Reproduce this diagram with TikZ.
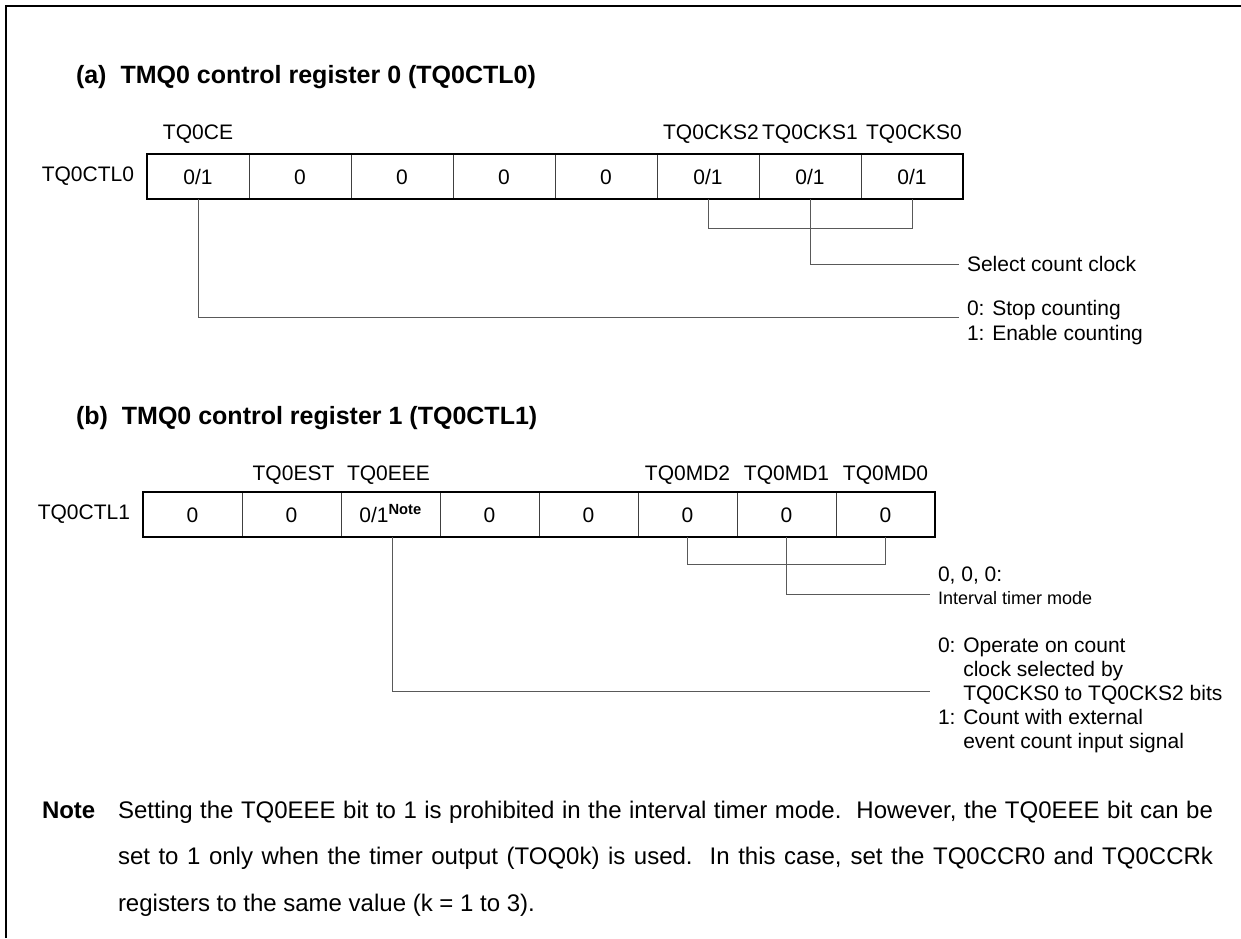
\documentclass[tikz,border=0pt]{standalone}
\usepackage{fontspec}
\setmainfont{Liberation Sans}
\begin{document}
\begin{tikzpicture}[x=1pt,y=-1pt,
  every node/.style={inner sep=0pt, outer sep=0pt},
  lbl/.style={font=\fontsize{21}{25}\selectfont},
  ttl/.style={font=\fontsize{25}{30}\selectfont\bfseries, anchor=west},
  cellA/.style={draw=black!75, line width=0.8pt, minimum width=102pt, minimum height=45pt, text height=15pt, text depth=0pt, anchor=north west, font=\fontsize{21}{25}\selectfont},
  cellB/.style={cellA, minimum width=99pt},
  regframe/.style={line width=2pt},
  conn/.style={draw=black!65, line width=1pt},
  border/.style={line width=2.5pt, line join=miter},
  desc/.style={font=\fontsize{21}{25}\selectfont, align=left, anchor=north west, inner xsep=8pt, inner ysep=0pt}
]
\useasboundingbox (0,0) rectangle (1241,938);
\draw[border] (6,938) -- (6,6) -- (1241,6);

% ---------- (a) ----------
\node[ttl] (ta) at (76,77) {(a)\hspace{14pt}TMQ0 control register 0 (TQ0CTL0)};

\node[cellA] (a1) at (147,154) {0/1};
\node[cellA] (a2) at (249,154) {0};
\node[cellA] (a3) at (351,154) {0};
\node[cellA] (a4) at (453,154) {0};
\node[cellA] (a5) at (555,154) {0};
\node[cellA] (a6) at (657,154) {0/1};
\node[cellA] (a7) at (759,154) {0/1};
\node[cellA] (a8) at (861,154) {0/1};
\draw[regframe] (a1.north west) rectangle (a8.south east);

\node[lbl, anchor=east] (na) at ([xshift=-13pt]a1.west) {TQ0CTL0};
\node[lbl] (la1) at ([yshift=20pt]a1.north) {TQ0CE};
\node[lbl] (la6) at ([yshift=20pt,xshift=3pt]a6.north) {TQ0CKS2};
\node[lbl] (la7) at ([yshift=20pt]a7.north) {TQ0CKS1};
\node[lbl] (la8) at ([yshift=20pt,xshift=2pt]a8.north) {TQ0CKS0};

\draw[conn] (a6.south) -- ++(0,29) -| (a8.south);
\node[lbl, anchor=west, inner xsep=8pt] (selt) at (959,264) {Select count clock};
\draw[conn] (a7.south) |- (selt.west);

\node[desc] (cet) at (959,300) {0: Stop counting\\1: Enable counting};
\draw[conn] (a1.south) |- ([yshift=-17pt]cet.north west);

% ---------- (b) ----------
\node[ttl] (tb) at (76,418) {(b)\hspace{14pt}TMQ0 control register 1 (TQ0CTL1)};

\node[cellB] (b1) at (143,492) {0};
\node[cellB] (b2) at (242,492) {0};
\node[cellB] (b3) at (341,492) {0/1\textsuperscript{\bfseries Note}};
\node[cellB] (b4) at (440,492) {0};
\node[cellB] (b5) at (539,492) {0};
\node[cellB] (b6) at (638,492) {0};
\node[cellB] (b7) at (737,492) {0};
\node[cellB] (b8) at (836,492) {0};
\draw[regframe] (b1.north west) rectangle (b8.south east);

\node[lbl, anchor=east] (nb) at ([xshift=-13pt]b1.west) {TQ0CTL1};
\node[lbl] (lb2) at ([yshift=17pt,xshift=2pt]b2.north) {TQ0EST};
\node[lbl] (lb3) at ([yshift=17pt,xshift=-2pt]b3.north) {TQ0EEE};
\node[lbl] (lb6) at ([yshift=17pt]b6.north) {TQ0MD2};
\node[lbl] (lb7) at ([yshift=17pt]b7.north) {TQ0MD1};
\node[lbl] (lb8) at ([yshift=17pt]b8.north) {TQ0MD0};

\draw[conn] (b6.south) -- ++(0,27.5) -| (b8.south);
\node[desc, font=\fontsize{21}{23}\selectfont] (modet) at (930,567) {0, 0, 0:\\{\fontsize{18}{23}\selectfont Interval timer mode}};
\draw[conn] (b7.south) |- ([yshift=-27pt]modet.north west);

\node[desc, font=\fontsize{21}{24}\selectfont] (eeet) at (930,637.5) {0: Operate on count\\\hphantom{0: }clock selected by\\\hphantom{0: }TQ0CKS0 to TQ0CKS2 bits\\1: Count with external\\\hphantom{1: }event count input signal};
\draw[conn] ([xshift=1.5pt]b3.south) |- ([yshift=-53.5pt]eeet.north west);

% ---------- Note ----------
\node[font=\fontsize{24}{46.5}\selectfont\bfseries, anchor=base west] (nlab) at (42,818) {Note};
\node[font=\fontsize{24}{46.5}\selectfont, anchor=north west, text width=1095pt, align=justify] (ntext) at (118,800.8) {Setting the TQ0EEE bit to 1 is prohibited in the interval timer mode.\ \ However, the TQ0EEE bit can be\linebreak set to 1 only when the timer output (TOQ0k) is used.\ \ In this case, set the TQ0CCR0 and TQ0CCRk\linebreak registers to the same value (k = 1 to 3).};
\end{tikzpicture}
\end{document}
